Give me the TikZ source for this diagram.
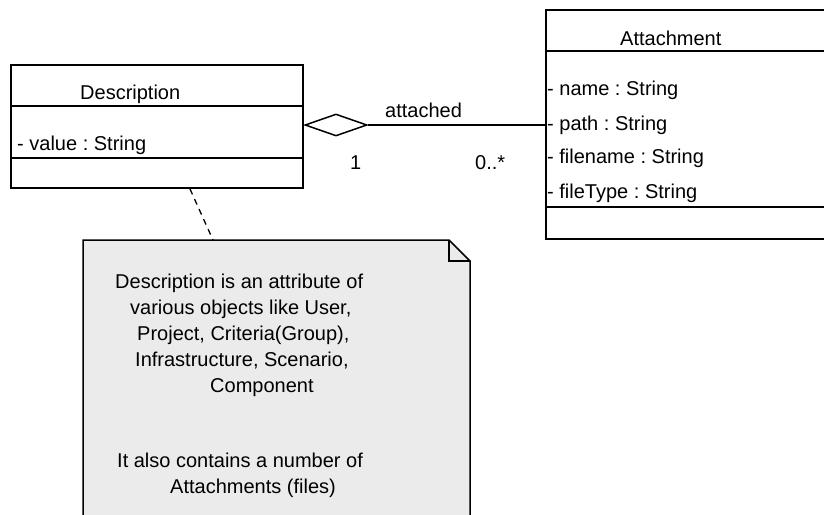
\documentclass[tikz,border=0pt]{standalone}
\usepackage{fontspec}
\setmainfont{Liberation Sans}
\usetikzlibrary{shapes.geometric}
\definecolor{notefill}{HTML}{EBEBEB}
\frenchspacing
\tikzset{
  umlbox/.style={draw, line width=1.5pt, rectangle, inner sep=0pt},
  lbl/.style={inner sep=0pt, anchor=base west, font=\fontsize{20}{24}\selectfont},
  rule/.style={line width=1.5pt},
  aggr/.style={draw, line width=1.5pt, shape=diamond, fill=white, inner sep=0pt,
    minimum width=62pt, minimum height=22pt},
  anchorline/.style={line width=1.3pt, dash pattern=on 6pt off 5pt},
}
\begin{document}
\begin{tikzpicture}[x=1pt, y=-1pt]
\useasboundingbox (0,0) rectangle (824,514);
\clip (0,0) rectangle (824,514);

% Description class
\node[umlbox, minimum width=292pt, minimum height=123pt] (desc) at (157,126.5) {};
\draw[rule] (11,106) -- (303,106);
\draw[rule] (11,158) -- (303,158);
\node[lbl] (desctitle) at (80,99) {Description};
\node[lbl] (descval) at (17,150) {- value : String};

% Attachment class (runs off the right edge)
\node[umlbox, minimum width=290pt, minimum height=229pt] (att) at (691,124.5) {};
\draw[rule] (546,51) -- (836,51);
\draw[rule] (546,207) -- (836,207);
\node[lbl] (atttitle) at (620,45) {Attachment};
\node[lbl] (attname) at (547,95) {- name : String};
\node[lbl] (attpath) at (547,130) {- path : String};
\node[lbl] (attfile) at (547,163) {- filename : String};
\node[lbl] (atttype) at (547,198) {- fileType : String};

% Aggregation
\node[aggr] (diam) at (336,125) {};
\draw[rule] (diam.east) -- (diam.east -| att.west);
\node[lbl] (assoc) at (385,117) {attached};
\node[lbl] (multa) at (350,169) {1};
\node[lbl] (multb) at (475,169) {0..*};

% Note
\draw[line width=1.5pt, fill=notefill]
  (83,530) -- (83,240) -- (449,240) -- (470,261) -- (470,530);
\draw[line width=1.5pt] (449,240) -- (449,261) -- (470,261);
\coordinate (ndesc) at (190,189);
\coordinate (nnote) at (213,240);
\draw[anchorline] (ndesc) -- (nnote);

\node[lbl] (n1) at (115,288) {Description is an attribute of};
\node[lbl] (n2) at (130,314) {various objects like User,};
\node[lbl] (n3) at (137,340) {Project, Criteria(Group),};
\node[lbl] (n4) at (135,366) {Infrastructure, Scenario,};
\node[lbl] (n5) at (210,392) {Component};
\node[lbl] (n6) at (117,467) {It also contains a number of};
\node[lbl] (n7) at (170,493) {Attachments (files)};
\end{tikzpicture}
\end{document}
